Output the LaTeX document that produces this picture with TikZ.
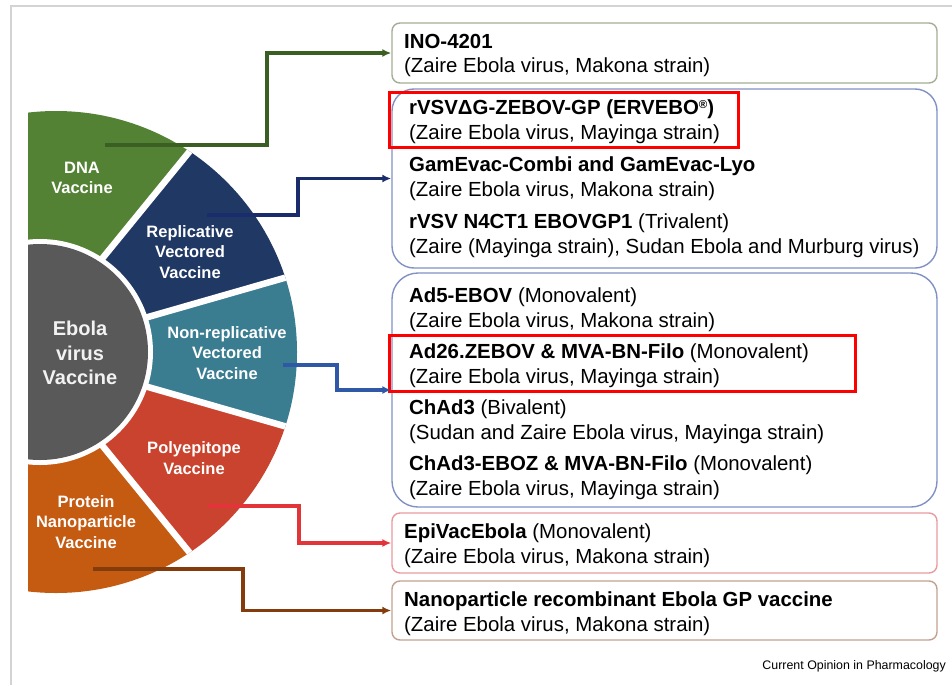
\documentclass[tikz,border=0pt]{standalone}
\usepackage{fontspec}
\setmainfont{Liberation Sans}
\usetikzlibrary{calc,positioning,arrows.meta}
\definecolor{colordna}{HTML}{548235}
\definecolor{colorrep}{HTML}{1F3864}
\definecolor{colornon}{HTML}{3A7D91}
\definecolor{colorpoly}{HTML}{C9432F}
\definecolor{colorprot}{HTML}{C55A11}
\definecolor{colorcore}{HTML}{595959}
\definecolor{colorldna}{HTML}{3B5E23}
\definecolor{colorlrep}{HTML}{1B2C6C}
\definecolor{colorlnon}{HTML}{2F59A6}
\definecolor{colorlpoly}{HTML}{E3343A}
\definecolor{colorlprot}{HTML}{843C0C}
\definecolor{colorbdna}{HTML}{A4AD95}
\definecolor{colorbvec}{HTML}{8091C4}
\definecolor{colorbpoly}{HTML}{E89A9E}
\definecolor{colorbprot}{HTML}{C2A18E}
\definecolor{colorframe}{HTML}{D3D3D3}
\newcommand{\listfont}{\fontsize{20.4}{24.5}\selectfont}
\newcommand{\segfont}{\fontsize{16.5}{20.5}\selectfont\bfseries}
\tikzset{
  seg/.style={text=white, font=\segfont, align=center, inner sep=0pt},
  vbox/.style={draw, line width=1.4pt, minimum width=545, inner sep=0pt},
  itemtxt/.style={anchor=north west, inner sep=0pt, align=left, font=\listfont},
  hilite/.style={draw=red, line width=3pt, inner sep=0pt},
  edgedna/.style={colorldna, line width=3.2pt, -{Latex[length=9pt,width=8pt]}},
  edgerep/.style={colorlrep, line width=3.2pt, -{Latex[length=9pt,width=8pt]}},
  edgenon/.style={colorlnon, line width=3.2pt, -{Latex[length=9pt,width=8pt]}},
  edgepoly/.style={colorlpoly, line width=3.2pt, -{Latex[length=9pt,width=8pt]}},
  edgeprot/.style={colorlprot, line width=3.2pt, -{Latex[length=9pt,width=8pt]}}
}
\begin{document}
\begin{tikzpicture}[x=1pt, y=-1pt]
\useasboundingbox (0,0) rectangle (952,685);
\draw[colorframe, line width=1.2pt] (11,685) -- (11,6) -- (952,6);
% half disc of vaccine types
\begin{scope}
  \clip (28,0) rectangle (952,685);
  \clip (56,352) circle[radius=241pt];
  \fill[colordna] (26,352) -- (279,42) -- (26,-50) -- cycle;
  \fill[colorrep] (26,352) -- (410,242) -- (279,42) -- cycle;
  \fill[colornon] (26,352) -- (410,462) -- (410,242) -- cycle;
  \fill[colorpoly] (26,352) -- (279,662) -- (410,462) -- cycle;
  \fill[colorprot] (26,352) -- (26,754) -- (279,662) -- cycle;
  \foreach \a in {50.8,16,-16,-50.8}
    \draw[white, line width=6.5pt] (26,352) -- ++({400*cos(\a)},{-400*sin(\a)});
  \fill[white] (40,352) circle[radius=113pt];
  \fill[colorcore] (40,352) circle[radius=108pt];
\end{scope}
\node[seg] (dnav) at (82,178) {DNA\\Vaccine};
\node[seg] (repv) at (190,252) {Replicative\\Vectored\\Vaccine};
\node[seg] (nonv) at (227,353) {Non-replicative\\Vectored\\Vaccine};
\node[seg] (polyv) at (194,458) {Polyepitope\\Vaccine};
\node[seg] (protv) at (86,522) {Protein\\Nanoparticle\\Vaccine};
\node[seg, text=white!95!black, font=\fontsize{20}{24.5}\selectfont\bfseries] (ebola) at (80,353) {Ebola\\virus\\Vaccine};
% candidate boxes
\node[vbox, draw=colorbdna, minimum height=60, rounded corners=8pt] (ino) at (664.5,53) {};
\node[vbox, draw=colorbvec, minimum height=179, rounded corners=22pt] (vec1) at (664.5,178.5) {};
\node[vbox, draw=colorbvec, minimum height=234, rounded corners=26pt] (vec2) at (664.5,390) {};
\node[vbox, draw=colorbpoly, minimum height=60, rounded corners=8pt] (epi) at (664.5,543) {};
\node[vbox, draw=colorbprot, minimum height=59, rounded corners=8pt] (nano) at (664.5,610.5) {};
\node[itemtxt] (inotxt) at (404,34) {\textbf{INO-4201}\\(Zaire Ebola virus, Makona strain)};
\node[itemtxt] (vec1txt) at (409,100) {\textbf{rVSVΔG-ZEBOV-GP (ERVEBO\raisebox{6.5pt}{\fontsize{11.5}{12}\selectfont ®})}\\(Zaire Ebola virus, Mayinga strain)\\[8pt]
  \textbf{GamEvac-Combi and GamEvac-Lyo}\\(Zaire Ebola virus, Makona strain)\\[8pt]
  \textbf{rVSV N4CT1 EBOVGP1} (Trivalent)\\(Zaire (Mayinga strain), Sudan Ebola and Murburg virus)};
\node[itemtxt] (vec2txt) at (409,288) {\textbf{Ad5-EBOV} (Monovalent)\\(Zaire Ebola virus, Makona strain)\\[7pt]
  \textbf{Ad26.ZEBOV \& MVA-BN-Filo} (Monovalent)\\(Zaire Ebola virus, Mayinga strain)\\[7pt]
  \textbf{ChAd3} (Bivalent)\\(Sudan and Zaire Ebola virus, Mayinga strain)\\[7pt]
  \textbf{ChAd3-EBOZ \& MVA-BN-Filo} (Monovalent)\\(Zaire Ebola virus, Mayinga strain)};
\node[itemtxt] (epitxt) at (404,524) {\textbf{EpiVacEbola} (Monovalent)\\(Zaire Ebola virus, Makona strain)};
\node[itemtxt] (nanotxt) at (404,592) {\textbf{Nanoparticle recombinant Ebola GP vaccine}\\(Zaire Ebola virus, Makona strain)};
\node[hilite, minimum width=349, minimum height=55] (hl1) at (563.5,119.5) {};
\node[hilite, minimum width=466, minimum height=56] (hl2) at (622,363) {};
% connectors
\coordinate (dnaS) at (105,145);
\coordinate (repS) at (207,215);
\coordinate (nonS) at (283,365);
\coordinate (polyS) at (208,506);
\coordinate (protS) at (93,569);
\draw[edgedna] (dnaS) -- ++(162,0) |- (ino.west);
\draw[edgerep] (repS) -- ++(91,0) |- (vec1.west);
\draw[edgenon] (nonS) -- ++(54,0) |- (vec2.west);
\draw[edgepoly] (polyS) -- ++(91,0) |- (epi.west);
\draw[edgeprot] (protS) -- ++(150,0) |- (nano.west);
\node[anchor=base east, inner sep=0pt, font=\fontsize{12.4}{14}\selectfont] (src) at (946,669) {Current Opinion in Pharmacology};
\end{tikzpicture}
\end{document}
